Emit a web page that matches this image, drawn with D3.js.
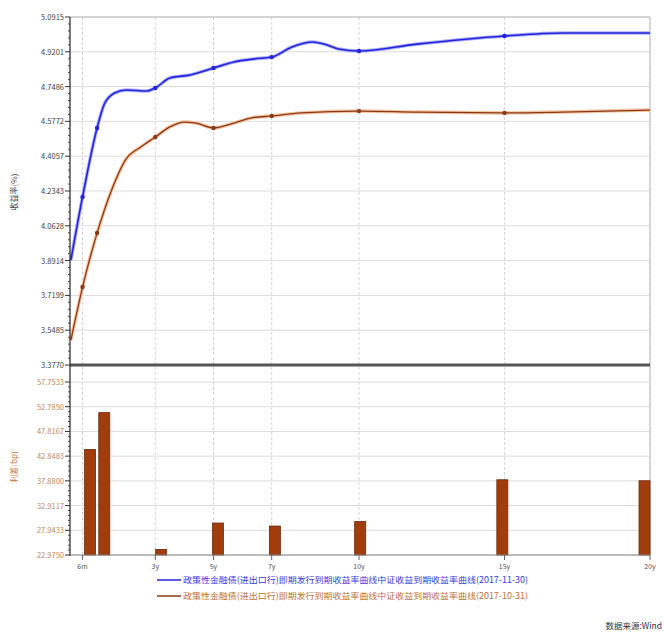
<!DOCTYPE html>
<html>
<head>
<meta charset="utf-8">
<script src="https://cdn.jsdelivr.net/npm/d3@7"></script>
<style>
  body { margin: 0; background: #fff; }
  svg { font-family: "Noto Sans CJK SC", "DejaVu Sans", sans-serif; }
</style>
</head>
<body>
<div id="chart"></div>
<script>
// yield curves: tenor (years) and yield (%)
let blueTenors = [0.1, 0.5, 1, 1.25, 1.6, 2, 2.7, 3, 3.5, 4.2, 5, 5.7, 6.4, 7, 7.7, 8.4, 8.9, 9.3, 10, 12, 15, 17, 20];
let blueYields = [3.894, 4.205, 4.545, 4.663, 4.717, 4.732, 4.727, 4.742, 4.791, 4.806, 4.840, 4.870, 4.885, 4.894, 4.944, 4.968, 4.954, 4.934, 4.924, 4.958, 4.998, 5.013, 5.013];

let orangeTenors = [0.1, 0.5, 1, 1.5, 2, 2.5, 3, 3.5, 4, 4.4, 5, 5.7, 6.3, 7, 8, 10, 12, 15, 17, 20];
let orangeYields = [3.500, 3.761, 4.027, 4.239, 4.392, 4.451, 4.500, 4.550, 4.574, 4.569, 4.545, 4.569, 4.594, 4.604, 4.619, 4.628, 4.623, 4.619, 4.623, 4.633];

// key tenors that carry a marker and a spread bar
let keyTenors = [0.5, 1, 3, 5, 7, 10, 15, 20];
let spreads = [44.2, 51.6, 24.1, 29.4, 28.8, 29.7, 38.1, 37.9];

// axis ticks
let xTicks = [0.5, 3, 5, 7, 10, 15, 20];
let xTickLabels = ["6m", "3y", "5y", "7y", "10y", "15y", "20y"];
let yTicks = [3.3770, 3.5485, 3.7199, 3.8914, 4.0628, 4.2343, 4.4057, 4.5772, 4.7486, 4.9201, 5.0915];
let spreadTicks = [22.9750, 27.9433, 32.9117, 37.8800, 42.8483, 47.8167, 52.7850, 57.7533];

let legendLabels = [
  "政策性金融债(进出口行)即期发行到期收益率曲线中证收益到期收益率曲线(2017-11-30)",
  "政策性金融债(进出口行)即期发行到期收益率曲线中证收益到期收益率曲线(2017-10-31)"
];
let sourceLabel = "数据来源:Wind";

////////////////////////////////////////////////////////////////////////
// layout

let width = 664, height = 634;
let left = 70, right = 650;

let svg = d3.select("#chart").append("svg")
  .attr("width", width)
  .attr("height", height);

let xScale = d3.scaleLinear().domain([0, 20]).range([68, right]);
let yScale = d3.scaleLinear().domain([3.3770, 5.0915]).range([365, 17]);
let sScale = d3.scaleLinear().domain([22.9750, 57.7533]).range([555, 382]);

// bars sit just right of the first tick and end on the last one
let barW = 11;
let barX = d3.scaleLinear().domain([0.5, 20]).range([xScale(0.5) + 2, xScale(20) - barW]);

let blue = "#2424dc", brown = "#8a3a1a";

////////////////////////////////////////////////////////////////////////
// grids

// horizontal grid, top
svg.append("g").selectAll("line")
  .data(yTicks)
  .enter().append("line")
  .attr("x1", left).attr("x2", right)
  .attr("y1", d => yScale(d)).attr("y2", d => yScale(d))
  .attr("stroke", "#dcdcdc");

// horizontal grid, bottom
svg.append("g").selectAll("line")
  .data(spreadTicks)
  .enter().append("line")
  .attr("x1", left).attr("x2", right)
  .attr("y1", d => sScale(d)).attr("y2", d => sScale(d))
  .attr("stroke", "#dcdcdc");

// vertical dashed grid
svg.append("g").selectAll("line")
  .data(xTicks)
  .enter().append("line")
  .attr("x1", d => xScale(d)).attr("x2", d => xScale(d))
  .attr("y1", 17).attr("y2", 555)
  .attr("stroke", "#d6d6d6")
  .attr("stroke-dasharray", "3,2");

// frame top & right
svg.append("line").attr("x1", left).attr("x2", right).attr("y1", 17).attr("y2", 17).attr("stroke", "#bbb");
svg.append("line").attr("x1", right).attr("x2", right).attr("y1", 17).attr("y2", 555).attr("stroke", "#bbb");

////////////////////////////////////////////////////////////////////////
// bars

svg.append("g").selectAll("rect")
  .data(keyTenors)
  .enter().append("rect")
  .attr("x", d => barX(d))
  .attr("width", barW)
  .attr("y", (d, i) => sScale(spreads[i]))
  .attr("height", (d, i) => sScale(22.975) - sScale(spreads[i]))
  .attr("fill", "#a13d0d")
  .attr("stroke", "#6e2a0a")
  .attr("stroke-width", 0.8);

////////////////////////////////////////////////////////////////////////
// curves

let line = d3.line()
  .x(d => xScale(d[0]))
  .y(d => yScale(d[1]))
  .curve(d3.curveMonotoneX);

let blueData = blueTenors.map((t, i) => [t, blueYields[i]]);
let orangeData = orangeTenors.map((t, i) => [t, orangeYields[i]]);

svg.append("path").datum(orangeData).attr("d", line)
  .attr("fill", "none").attr("stroke", "#f6c29c").attr("stroke-width", 3.5);
svg.append("path").datum(orangeData).attr("d", line)
  .attr("fill", "none").attr("stroke", brown).attr("stroke-width", 1.3);

svg.append("path").datum(blueData).attr("d", line)
  .attr("fill", "none").attr("stroke", "#a9adf5").attr("stroke-width", 3.5);
svg.append("path").datum(blueData).attr("d", line)
  .attr("fill", "none").attr("stroke", blue).attr("stroke-width", 1.6);

// markers at the key tenors
function markers(tenors, yields, color) {
  svg.append("g").selectAll("circle")
    .data(keyTenors.slice(0, 7))
    .enter().append("circle")
    .attr("cx", d => xScale(d))
    .attr("cy", d => yScale(yields[tenors.indexOf(d)]))
    .attr("r", 2.2)
    .attr("fill", color);
}
markers(blueTenors, blueYields, blue);
markers(orangeTenors, orangeYields, brown);

// divider between panels
svg.append("line").attr("x1", left).attr("x2", right).attr("y1", 365).attr("y2", 365)
  .attr("stroke", "#555").attr("stroke-width", 3);

////////////////////////////////////////////////////////////////////////
// axes

svg.append("line").attr("x1", left).attr("x2", left).attr("y1", 17).attr("y2", 556)
  .attr("stroke", "#222").attr("stroke-width", 1.2);

// minor ticks, 5 per interval
function minorTicks(ticks, scale, color) {
  let minors = [];
  for (let i = 0; i < ticks.length - 1; i++) {
    for (let k = 1; k < 5; k++) minors.push(ticks[i] + (ticks[i + 1] - ticks[i]) * k / 5);
  }
  svg.append("g").selectAll("line")
    .data(minors)
    .enter().append("line")
    .attr("x1", left - 2).attr("x2", left)
    .attr("y1", d => scale(d)).attr("y2", d => scale(d))
    .attr("stroke", color);
}
minorTicks(yTicks, yScale, "#444");
minorTicks(spreadTicks, sScale, "#444");

// major ticks + labels, top
let yAx = svg.append("g");
yAx.selectAll("line").data(yTicks).enter().append("line")
  .attr("x1", left - 5).attr("x2", left)
  .attr("y1", d => yScale(d)).attr("y2", d => yScale(d))
  .attr("stroke", "#333");
yAx.selectAll("text").data(yTicks).enter().append("text")
  .attr("x", left - 6).attr("y", d => yScale(d) + 3)
  .attr("text-anchor", "end")
  .attr("font-size", 7.5)
  .attr("fill", "#444")
  .text(d => d.toFixed(4));

// major ticks + labels, bottom
let sAx = svg.append("g");
sAx.selectAll("line").data(spreadTicks).enter().append("line")
  .attr("x1", left - 5).attr("x2", left)
  .attr("y1", d => sScale(d)).attr("y2", d => sScale(d))
  .attr("stroke", "#333");
sAx.selectAll("text").data(spreadTicks).enter().append("text")
  .attr("x", left - 6).attr("y", d => sScale(d) + 3)
  .attr("text-anchor", "end")
  .attr("font-size", 7.5)
  .attr("fill", "#c08a5a")
  .text(d => d.toFixed(4));

// x axis
svg.append("line").attr("x1", left).attr("x2", right).attr("y1", 555).attr("y2", 555)
  .attr("stroke", "#888");
let xAx = svg.append("g");
xAx.selectAll("line").data(xTicks).enter().append("line")
  .attr("x1", d => xScale(d)).attr("x2", d => xScale(d))
  .attr("y1", 555).attr("y2", 560)
  .attr("stroke", "#666");
xAx.selectAll("text").data(xTicks).enter().append("text")
  .attr("x", d => xScale(d)).attr("y", 569)
  .attr("text-anchor", "middle")
  .attr("font-size", 7)
  .attr("fill", "#555")
  .text((d, i) => xTickLabels[i]);

// axis titles
svg.append("text")
  .attr("transform", "translate(17,192) rotate(-90)")
  .attr("text-anchor", "middle")
  .attr("font-size", 8)
  .attr("fill", "#444")
  .text("收益率(%)");

svg.append("text")
  .attr("transform", "translate(17,467) rotate(-90)")
  .attr("text-anchor", "middle")
  .attr("font-size", 8)
  .attr("fill", "#c87a40")
  .text("利差(bp)");

////////////////////////////////////////////////////////////////////////
// legend

let legendColors = [blue, brown];
let legendText = ["#3a3ae0", "#c0703a"];
let lg = svg.append("g");
lg.selectAll("line").data(legendLabels).enter().append("line")
  .attr("x1", 157).attr("x2", 181)
  .attr("y1", (d, i) => 580 + i * 16).attr("y2", (d, i) => 580 + i * 16)
  .attr("stroke", (d, i) => legendColors[i])
  .attr("stroke-width", 1.5);
lg.selectAll("text").data(legendLabels).enter().append("text")
  .attr("x", 183).attr("y", (d, i) => 583 + i * 16)
  .attr("font-size", 8.5)
  .attr("textLength", 345)
  .attr("lengthAdjust", "spacingAndGlyphs")
  .attr("fill", (d, i) => legendText[i])
  .text(d => d);

svg.append("text")
  .attr("x", 662).attr("y", 629)
  .attr("text-anchor", "end")
  .attr("font-size", 8.5)
  .attr("fill", "#333")
  .text(sourceLabel);
</script>
</body>
</html>
